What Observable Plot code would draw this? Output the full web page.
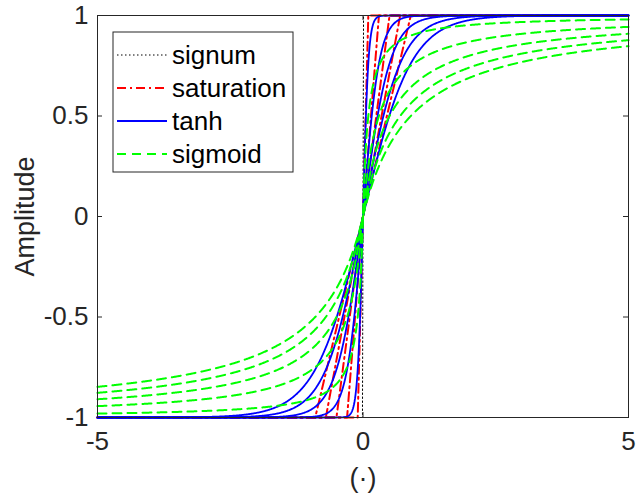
<!DOCTYPE html>
<html>
<head>
<meta charset="utf-8">
<script src="https://cdn.jsdelivr.net/npm/d3@7"></script>
<script src="https://cdn.jsdelivr.net/npm/@observablehq/plot@0.6"></script>
<style>
  html, body { margin: 0; padding: 0; background: #fff; }
</style>
</head>
<body>
<div id="chart"></div>
<script>
// Boundary-layer widths (same set for every smooth family)
const epsilons = [0.1, 0.3, 0.5, 0.7, 0.9];
const families = ["signum", "saturation", "tanh", "sigmoid"];
const familyColors = ["#000000", "#ff0000", "#0000ff", "#00ff00"];
const familyDashes = ["1.5,2.5", "9,4,2,4", null, "9,6"];
const familyWidths = [1, 2, 1.8, 2];
const xTicks = [-5, 0, 5];
const yTicks = [-1, -0.5, 0, 0.5, 1];
const xLabel = "(·)";
const yLabel = "Amplitude";

// switching-function definitions named in the legend
const fns = {
  signum: (x) => Math.sign(x),
  saturation: (x, e) => Math.max(-1, Math.min(1, x / e)),
  tanh: (x, e) => Math.tanh(x / e),
  sigmoid: (x, e) => x / (Math.abs(x) + e)
};
const xs = d3.range(-500, 501).map(i => i / 100);

const rows = [];
families.forEach((f) => {
  const es = f === "signum" ? [0] : epsilons;
  es.forEach(e => xs.forEach(x => rows.push({fam: f, eps: e, key: f + e, x, y: fns[f](x, e)})));
});

const lineMarks = families.map((f, i) =>
  Plot.line(rows.filter(r => r.fam === f), {
    x: "x", y: "y", z: "key",
    stroke: familyColors[i],
    strokeWidth: familyWidths[i],
    strokeDasharray: familyDashes[i] || undefined,
    strokeLinejoin: "round"
  })
);

const W = 638, H = 498, mL = 97, mR = 10, mT = 15, mB = 81;
const fw = W - mL - mR, fh = H - mT - mB, tk = 5;

const chart = Plot.plot({
  width: W, height: H,
  marginLeft: mL, marginRight: mR, marginTop: mT, marginBottom: mB,
  x: {domain: [-5, 5]},
  y: {domain: [-1, 1]},
  style: {fontFamily: "'Liberation Sans', Arial, sans-serif", fontSize: "26px", color: "#262626", background: "#fff"},
  marks: [
    ...lineMarks,
    Plot.frame({stroke: "#262626", strokeWidth: 1}),
    Plot.tickX(xTicks, {x: d => d, insetTop: fh - tk, stroke: "#262626"}),
    Plot.tickX(xTicks, {x: d => d, insetBottom: fh - tk, stroke: "#262626"}),
    Plot.tickY(yTicks, {y: d => d, insetRight: fw - tk, stroke: "#262626"}),
    Plot.tickY(yTicks, {y: d => d, insetLeft: fw - tk, stroke: "#262626"}),
    Plot.axisX({ticks: xTicks, tickSize: 0, tickPadding: 14, tickFormat: d => String(d), label: null}),
    Plot.axisY({ticks: yTicks, tickSize: 0, tickPadding: 9, tickFormat: d => String(d), label: null}),
    Plot.text([yLabel], {frameAnchor: "left", dx: -72, rotate: -90, fontSize: 27, textAnchor: "middle", lineAnchor: "middle"}),
    Plot.text([xLabel], {frameAnchor: "bottom", dy: 61, fontSize: 27, textAnchor: "middle", lineAnchor: "middle"})
  ]
});

// legend (MATLAB-style box, top-left)
const svg = d3.select(chart);
const lg = svg.append("g").attr("text-anchor", "start");
const bx = 113, by = 32, bw = 180, bh = 140;
lg.append("rect").attr("x", bx).attr("y", by).attr("width", bw).attr("height", bh)
  .attr("fill", "#fff").attr("stroke", "#262626").attr("stroke-width", 1);
const rowY = [55, 88, 121, 154];
families.forEach((f, i) => {
  lg.append("line").attr("x1", 117).attr("x2", 167).attr("y1", rowY[i]).attr("y2", rowY[i])
    .attr("stroke", familyColors[i]).attr("stroke-width", familyWidths[i])
    .attr("stroke-dasharray", familyDashes[i]);
  lg.append("text").attr("x", 172).attr("y", rowY[i]).attr("dy", "0.35em")
    .attr("text-anchor", "start")
    .attr("fill", "#000").attr("font-size", 26).text(f);
});

document.getElementById("chart").appendChild(chart);
</script>
</body>
</html>
